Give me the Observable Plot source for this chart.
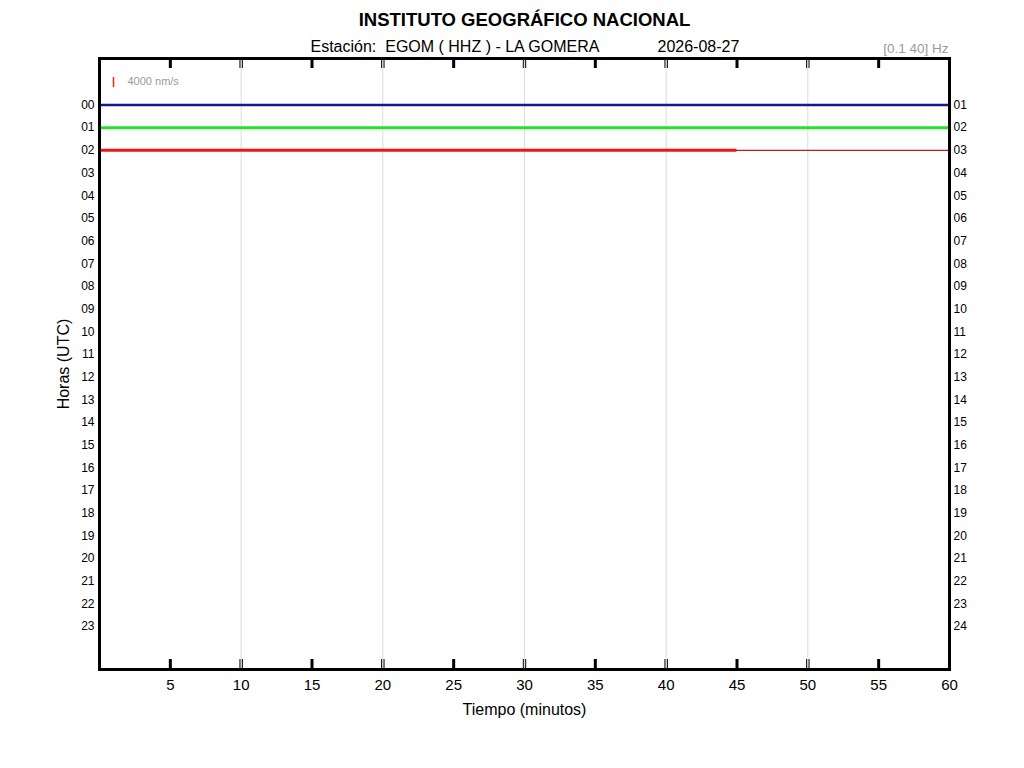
<!DOCTYPE html>
<html>
<head>
<meta charset="utf-8">
<script src="https://cdn.jsdelivr.net/npm/d3@7"></script>
<script src="https://cdn.jsdelivr.net/npm/@observablehq/plot@0.6"></script>
<style>
  html, body { margin: 0; padding: 0; background: #fff; }
  #chart svg { display: block; font-family: "Liberation Sans", Arial, sans-serif; }
</style>
</head>
<body>
<div id="chart"></div>
<script>
// ---- data ----
const titleText = "INSTITUTO GEOGRÁFICO NACIONAL";
const stationText = "Estación:  EGOM ( HHZ ) - LA GOMERA";
const dateText = "2026-08-27";
const filterText = "[0.1 40] Hz";
const scaleText = "4000 nm/s";
const xLabel = "Tiempo (minutos)";
const yLabel = "Horas (UTC)";

const leftLabels = ["00","01","02","03","04","05","06","07","08","09","10","11",
                    "12","13","14","15","16","17","18","19","20","21","22","23"];
const rightLabels = ["01","02","03","04","05","06","07","08","09","10","11","12",
                     "13","14","15","16","17","18","19","20","21","22","23","24"];
const xTicks = [5, 10, 15, 20, 25, 30, 35, 40, 45, 50, 55, 60];
const gridMinutes = [10, 20, 30, 40, 50];

// recorded traces (hour row, start minute, end minute)
const traceHours = [0, 1, 2];
const traceStart = [0, 0, 0];
const traceEnd = [60, 60, 45];
// flat (no-signal) baseline continuing the last row
const baselineHour = 2;
const baselineStart = 0;
const baselineEnd = 60;

// ---- styles ----
const traceColors = ["#14179a", "#22e424", "#f21414"];
const traceWidths = [2.6, 3, 3];

const hourValues = leftLabels.map((_, i) => i);
const traces = traceHours.map((h, i) => ({hour: h, start: traceStart[i], end: traceEnd[i], idx: i}));
const baseline = [{hour: baselineHour, start: baselineStart, end: baselineEnd}];
const oddTicks = xTicks.filter(d => !gridMinutes.includes(d) && d !== 60);
const evenTicks = xTicks.filter(d => gridMinutes.includes(d));

const W = 1024, H = 768;
const mL = 99, mR = 75, mT = 58, mB = 99;
const frameH = H - mT - mB;
const tickLen = 10;

const chart = Plot.plot({
  width: W, height: H,
  marginLeft: mL, marginRight: mR, marginTop: mT, marginBottom: mB,
  style: {fontFamily: '"Liberation Sans", Arial, sans-serif', background: "#fff"},
  x: {domain: [0, 60]},
  y: {domain: [-2.05, 24.9], reverse: true},
  marks: [
    // light vertical grid
    Plot.ruleX(gridMinutes, {x: d => d, stroke: "#dcdcdc", strokeWidth: 1}),
    // inward ticks at bottom and top
    Plot.ruleX(oddTicks, {x: d => d, insetTop: frameH - tickLen, stroke: "#000", strokeWidth: 3}),
    Plot.ruleX(oddTicks, {x: d => d, insetBottom: frameH - tickLen, stroke: "#000", strokeWidth: 3}),
    Plot.ruleX(evenTicks, {x: d => d, insetTop: frameH - tickLen, stroke: "#000", strokeWidth: 1, dx: -1.2}),
    Plot.ruleX(evenTicks, {x: d => d, insetTop: frameH - tickLen, stroke: "#000", strokeWidth: 1, dx: 1.2}),
    Plot.ruleX(evenTicks, {x: d => d, insetBottom: frameH - tickLen, stroke: "#000", strokeWidth: 1, dx: -1.2}),
    Plot.ruleX(evenTicks, {x: d => d, insetBottom: frameH - tickLen, stroke: "#000", strokeWidth: 1, dx: 1.2}),
    // baseline thin line
    Plot.ruleY(baseline, {y: "hour", x1: "start", x2: "end", stroke: "#b81c1c", strokeWidth: 1.2}),
    // traces
    ...traces.map(t => Plot.ruleY([t], {y: "hour", x1: "start", x2: "end",
        stroke: traceColors[t.idx], strokeWidth: traceWidths[t.idx]})),
    // axes
    Plot.axisX(xTicks, {anchor: "bottom", tickSize: 0, tickPadding: 10, fontSize: 15, label: null}),
    Plot.axisY(hourValues, {anchor: "left", tickSize: 0, tickPadding: 5, fontSize: 12,
        tickFormat: i => leftLabels[i], label: null}),
    Plot.axisY(hourValues, {anchor: "right", tickSize: 0, tickPadding: 4, fontSize: 12,
        tickFormat: i => rightLabels[i], label: null}),
    Plot.frame({stroke: "#000", strokeWidth: 3}),
    // axis labels
    Plot.text([xLabel], {frameAnchor: "bottom", dy: 40, text: d => d, fontSize: 16, textAnchor: "middle", lineAnchor: "middle", fill: "#000"}),
    Plot.text([yLabel], {frameAnchor: "left", dx: -36, text: d => d, fontSize: 16, rotate: -90, textAnchor: "middle", lineAnchor: "middle", fill: "#000"}),
    // titles
    Plot.text([titleText], {frameAnchor: "top", dy: -38, text: d => d, fontSize: 18.5, fontWeight: "bold", textAnchor: "middle", lineAnchor: "middle", fill: "#000"}),
    Plot.text([stationText], {frameAnchor: "top-left", dx: 211, dy: -12, text: d => d, fontSize: 16, textAnchor: "start", lineAnchor: "middle", fill: "#000"}),
    Plot.text([dateText], {frameAnchor: "top-left", dx: 558, dy: -12, text: d => d, fontSize: 16, textAnchor: "start", lineAnchor: "middle", fill: "#000"}),
    Plot.text([filterText], {frameAnchor: "top-right", dx: -1, dy: -10, text: d => d, fontSize: 13.5, textAnchor: "end", lineAnchor: "middle", fill: "#9a9a9a"}),
    // amplitude scale legend
    Plot.text([scaleText], {frameAnchor: "top-left", dx: 28, dy: 23, text: d => d, fontSize: 11, textAnchor: "start", lineAnchor: "middle", fill: "#9a9a9a"}),
    Plot.text(["|"], {frameAnchor: "top-left", dx: 14, dy: 23, text: d => d, fontSize: 11, fontWeight: "bold", textAnchor: "middle", lineAnchor: "middle", fill: "#e31b1b"})
  ]
});
document.getElementById("chart").appendChild(chart);
</script>
</body>
</html>
